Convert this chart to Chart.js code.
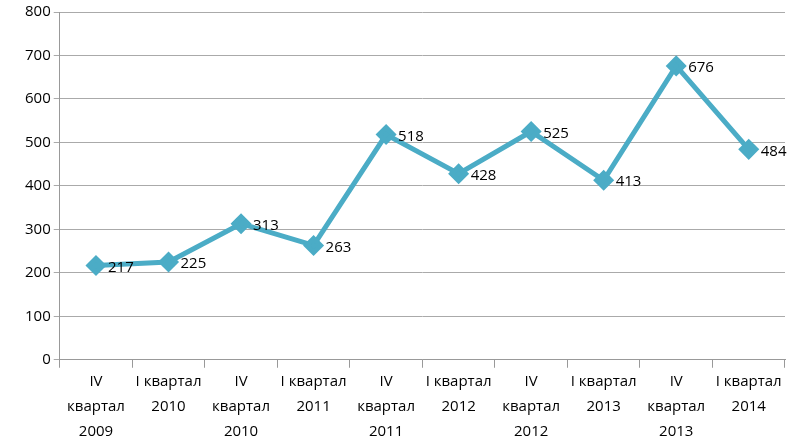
<!DOCTYPE html>
<html>
<head>
<meta charset="UTF-8">
<script src="https://cdn.jsdelivr.net/npm/chart.js"></script>
<style>
  body { margin: 0; background: #fff; }
  #wrap { width: 800px; height: 446px; }
</style>
</head>
<body>
<div id="wrap"><canvas id="c"></canvas></div>
<script>
const labels = [
  ['IV', 'квартал', '2009'], ['I квартал', '2010'],
  ['IV', 'квартал', '2010'], ['I квартал', '2011'],
  ['IV', 'квартал', '2011'], ['I квартал', '2012'],
  ['IV', 'квартал', '2012'], ['I квартал', '2013'],
  ['IV', 'квартал', '2013'], ['I квартал', '2014']
];
const values = [217, 225, 313, 263, 518, 428, 525, 413, 676, 484];
const yTicks = [0, 100, 200, 300, 400, 500, 600, 700, 800];

// value labels to the right of each point
const valueLabels = {
  id: 'valueLabels',
  afterDatasetsDraw(chart) {
    const ctx = chart.ctx;
    const pts = chart.getDatasetMeta(0).data;
    ctx.save();
    ctx.font = '15px "Open Sans"';
    ctx.fillStyle = '#000';
    ctx.textBaseline = 'middle';
    pts.forEach((p, i) => ctx.fillText(values[i], p.x + 12, p.y + 2));
    ctx.restore();
  }
};

new Chart(document.getElementById('c'), {
  type: 'line',
  data: {
    labels: labels,
    datasets: [{
      data: values,
      borderColor: '#4BACC6',
      backgroundColor: '#4BACC6',
      borderWidth: 5,
      pointStyle: 'rectRot',
      pointRadius: 7,
      tension: 0
    }]
  },
  options: {
    responsive: true,
    maintainAspectRatio: false,
    animation: false,
    layout: { padding: { top: 8, right: 15, left: 22, bottom: 0 } },
    plugins: { legend: { display: false }, tooltip: { enabled: false } },
    scales: {
      x: {
        offset: true,
        grid: { offset: true, drawOnChartArea: false, color: '#999', tickLength: 8 },
        border: { color: '#999' },
        ticks: { color: '#000', font: { family: 'Open Sans', size: 15, lineHeight: 1.65 }, maxRotation: 0, autoSkip: false, padding: 2 }
      },
      y: {
        min: 0, max: 800,
        afterBuildTicks: axis => { axis.ticks = yTicks.map(v => ({ value: v })); },
        grid: { color: '#aaa', tickLength: 6 },
        border: { color: '#999' },
        ticks: { color: '#000', font: { family: 'Open Sans', size: 15 } }
      }
    }
  },
  plugins: [valueLabels]
});
</script>
</body>
</html>
